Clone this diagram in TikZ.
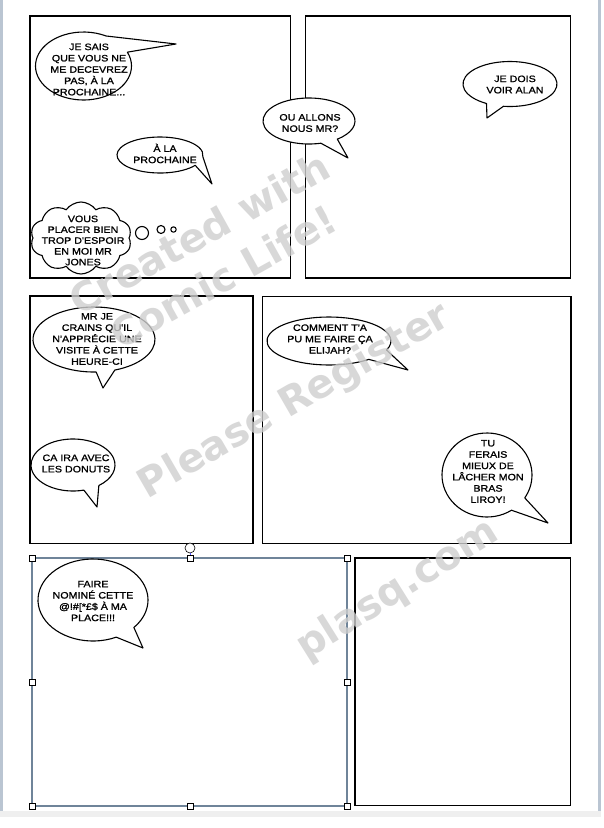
\documentclass[tikz,border=0pt]{standalone}
\usepackage{fontspec}
\newfontfamily\comic[FakeStretch=1.15,FakeBold=1.2]{Liberation Sans}
\newfontfamily\wmfont{DejaVu Sans}
\usetikzlibrary{shapes.symbols}
\definecolor{sidebar}{HTML}{BAC5D2}
\definecolor{bottomband}{HTML}{EFEFEF}
\definecolor{selframe}{HTML}{6F8499}
\definecolor{wmgray}{HTML}{CFCFCF}
\tikzset{
  panel/.style={draw=black, line width=1.4pt, fill=white},
  selpanel/.style={draw=selframe, line width=1.4pt},
  bubble/.style={draw=black, fill=white, line width=1.1pt, line join=round},
  txt/.style={font=\comic\fontsize{9.3}{11.3}\selectfont, align=center, inner sep=0pt},
  handle/.style={draw=black, fill=white, line width=0.6pt, minimum size=6pt, inner sep=0pt, rectangle},
  wm/.style={font=\wmfont\bfseries\fontsize{40}{50}\selectfont, text=wmgray, text opacity=0.8, align=center, inner sep=0pt}
}
% cx cy rx ry a1 a2 tipx tipy
\newcommand\speechbubble[8]{%
  \draw[bubble] (#1,#2) ++(#6:#3 and #4) arc[start angle=#6, end angle=#5+360, x radius=#3, y radius=#4] -- (#7,#8) -- cycle;
}
\begin{document}
\begin{tikzpicture}[x=1pt,y=-1pt]
\useasboundingbox (0,0) rectangle (604,828);
\fill[white] (0,0) rectangle (604,828);
% page edges
\fill[sidebar] (0,0) rectangle (3,811);
\fill[sidebar] (598,0) rectangle (601,811);
\fill[bottomband] (0,811) rectangle (601,817);

% panels
\draw[panel] (30,16) rectangle (290.5,278);
\draw[panel] (305.5,16) rectangle (570.5,278);
\draw[panel] (30,296) rectangle (253,543.5);
\draw[panel] (262.5,296.5) rectangle (571,543.5);
\draw[panel,draw=none] (32,558) rectangle (347,806);
\draw[selpanel] (32,558) rectangle (347,806);
\draw[panel] (355,558) rectangle (570.5,805.5);

% speech bubbles
\speechbubble{83.5}{66}{48}{34}{-62}{-24}{176}{44}
\speechbubble{160}{155}{43}{18}{5}{35}{212}{184}
\speechbubble{309}{121}{46}{23}{52}{75}{348}{158}
\speechbubble{510}{84}{47}{22.5}{98}{120}{487}{118}
\speechbubble{94}{339.5}{61}{32.5}{70}{88}{103}{388}
\speechbubble{73}{465}{42}{26}{52}{75}{97}{507}
\speechbubble{329}{341}{62}{24}{22}{50}{408}{370}
\speechbubble{487}{475}{45}{42}{33}{57}{548}{523}
\speechbubble{93}{600}{55}{41}{42}{65}{143}{648}

% thought bubble
\node[cloud, draw=black, fill=white, line width=1.1pt, cloud puffs=10, cloud puff arc=110, aspect=1.5, minimum width=101pt, minimum height=72pt, inner sep=0pt] (cloudC) at (81,238) {};
\draw[bubble] (142,233) circle[radius=6.5];
\draw[bubble] (161,229.5) circle[radius=4];
\draw[bubble] (173.5,229.5) circle[radius=2.7];

% texts
\node[txt] (tA) at (89,69.5) {JE SAIS\\QUE VOUS NE\\ME DECEVREZ\\PAS, À LA\\PROCHAINE...};
\node[txt] (tB) at (165,153.5) {À LA\\PROCHAINE};
\node[txt,font=\comic\fontsize{9.3}{10.8}\selectfont] (tC) at (83,240.5) {VOUS\\PLACER BIEN\\TROP D'ESPOIR\\EN MOI MR\\JONES};
\node[txt] (tD) at (310,123) {OU ALLONS\\NOUS MR?};
\node[txt] (tE) at (515,84.5) {JE DOIS\\VOIR ALAN};
\node[txt] (tF) at (97,339) {MR JE\\CRAINS QU'IL\\N'APPRÉCIE UNE\\VISITE À CETTE\\HEURE-CI};
\node[txt] (tG) at (76,463.5) {CA IRA AVEC\\LES DONUTS};
\node[txt] (tH) at (330,339) {COMMENT T'A\\PU ME FAIRE ÇA\\ELIJAH?};
\node[txt] (tI) at (488,471.5) {TU\\FERAIS\\MIEUX DE\\LÂCHER MON\\BRAS\\LIROY!};
\node[txt] (tJ) at (93,601) {FAIRE\\NOMINÉ CETTE\\@!\#[*£\$ À MA\\PLACE!!!};

% selection handles
\node[handle] (h1) at (32,558) {};
\node[handle] (h2) at (190,558) {};
\node[handle] (h3) at (347,558) {};
\node[handle] (h4) at (32,682) {};
\node[handle] (h5) at (347,682) {};
\node[handle] (h6) at (32,806) {};
\node[handle] (h7) at (190,806) {};
\node[handle] (h8) at (347,806) {};
\node[draw=black, fill=white, circle, minimum size=10pt, inner sep=0pt, line width=0.6pt] (rot) at (190,548) {};
\draw[blue!70, line width=0.8pt] (rot) -- (h2);

% watermark
\node[wm, rotate=29] (wm1) at (211,255) {Created with\\Comic Life!};
\node[wm, rotate=30] (wm2) at (295,402) {Please Register};
\node[wm, rotate=32] (wm3) at (398,590) {plasq.com};
\end{tikzpicture}
\end{document}
